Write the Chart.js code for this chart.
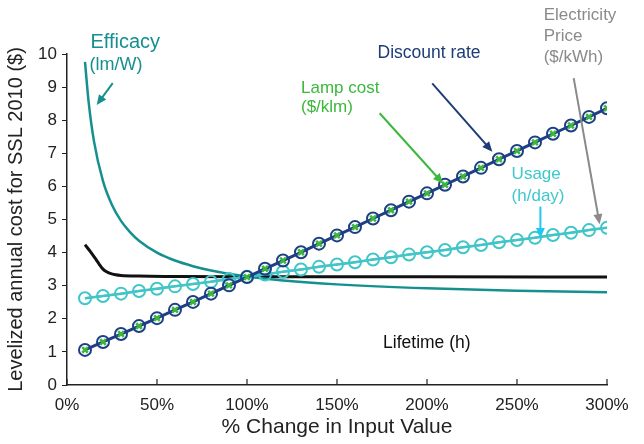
<!DOCTYPE html>
<html>
<head>
<meta charset="utf-8">
<script src="https://cdn.jsdelivr.net/npm/chart.js@4"></script>
<style>
  body { margin: 0; background: #fff; }
  #wrap { width: 644px; height: 444px; }
</style>
</head>
<body>
<div id="wrap"><canvas id="myChart"></canvas></div>
<script>
  // x = % change in input value
  const steps = [10, 20, 30, 40, 50, 60, 70, 80, 90, 100, 110, 120, 130, 140, 150,
                 160, 170, 180, 190, 200, 210, 220, 230, 240, 250, 260, 270, 280, 290, 300];

  const discountRate = [1.06, 1.30, 1.54, 1.78, 2.02, 2.27, 2.51, 2.76, 3.01, 3.26,
                        3.51, 3.76, 4.01, 4.27, 4.52, 4.77, 5.03, 5.28, 5.54, 5.79,
                        6.05, 6.30, 6.56, 6.82, 7.07, 7.33, 7.59, 7.84, 8.10, 8.36];
  const lampCost = [1.06, 1.30, 1.54, 1.78, 2.02, 2.27, 2.51, 2.76, 3.01, 3.26,
                    3.51, 3.76, 4.01, 4.27, 4.52, 4.77, 5.03, 5.28, 5.54, 5.79,
                    6.05, 6.30, 6.56, 6.82, 7.07, 7.33, 7.59, 7.84, 8.10, 8.36];
  const usage = [2.62, 2.69, 2.76, 2.84, 2.91, 2.98, 3.05, 3.12, 3.20, 3.27,
                 3.34, 3.42, 3.49, 3.57, 3.64, 3.71, 3.79, 3.86, 3.94, 4.01,
                 4.08, 4.16, 4.23, 4.31, 4.38, 4.45, 4.53, 4.60, 4.68, 4.75];
  const elecPrice = [2.62, 2.69, 2.76, 2.84, 2.91, 2.98, 3.05, 3.12, 3.20, 3.27,
                     3.34, 3.42, 3.49, 3.57, 3.64, 3.71, 3.79, 3.86, 3.94, 4.01,
                     4.08, 4.16, 4.23, 4.31, 4.38, 4.45, 4.53, 4.60, 4.68, 4.75];

  const efficacyX = [10, 12, 15, 20, 25, 30, 35, 40, 50, 60, 70, 80, 90, 100, 120, 150, 200, 250, 300];
  const efficacy  = [9.76, 8.56, 7.36, 6.16, 5.44, 4.96, 4.62, 4.36, 4.00, 3.76, 3.59, 3.46, 3.36, 3.28, 3.16, 3.04, 2.92, 2.85, 2.80];

  const lifetimeX = [10, 13, 16, 18, 20, 22, 24, 27, 30, 40, 60, 100, 150, 200, 300];
  const lifetime  = [4.24, 4.03, 3.80, 3.64, 3.50, 3.42, 3.37, 3.33, 3.31, 3.29, 3.28, 3.27, 3.27, 3.27, 3.26];

  const yTicks = [0, 1, 2, 3, 4, 5, 6, 7, 8, 9, 10];
  const xTicks = [0, 50, 100, 150, 200, 250, 300];

  // labels and arrows, placed in data units
  const notes = [
    { text: 'Efficacy', x: 13, y: 10.36, color: '#16908f', size: 20 },
    { text: '(lm/W)', x: 12.5, y: 9.67, color: '#16908f', size: 18 },
    { text: 'Discount rate', x: 172.5, y: 10.02, color: '#1d3c78', size: 17.5 },
    { text: 'Lamp cost', x: 130, y: 8.97, color: '#3cb83c', size: 17 },
    { text: '($/klm)', x: 130, y: 8.38, color: '#3cb83c', size: 17 },
    { text: 'Usage', x: 247, y: 6.37, color: '#3fc8cc', size: 17 },
    { text: '(h/day)', x: 247, y: 5.71, color: '#3fc8cc', size: 17 },
    { text: 'Electricity', x: 264.8, y: 11.18, color: '#8a8a8a', size: 17 },
    { text: 'Price', x: 264.8, y: 10.54, color: '#8a8a8a', size: 17 },
    { text: '($/kWh)', x: 264.8, y: 9.91, color: '#8a8a8a', size: 17 },
    { text: 'Lifetime (h)', x: 175.6, y: 1.26, color: '#111', size: 17.5 }
  ];
  const arrows = [
    { from: [25.4, 9.12], to: [16.5, 8.46], color: '#16908f' },
    { from: [202.9, 9.11], to: [236.3, 7.05], color: '#1d3c78' },
    { from: [173.7, 8.21], to: [208.9, 6.09], color: '#3cb83c' },
    { from: [263.0, 5.39], to: [263.0, 4.44], color: '#1ec8f0' },
    { from: [281.5, 9.27], to: [295.9, 4.86], color: '#8a8a8a' }
  ];

  const pts = (xs, ys) => xs.map((x, i) => ({ x: x, y: ys[i] }));

  const notePlugin = {
    id: 'notes',
    afterDraw(chart) {
      const c = chart.ctx, xs = chart.scales.x, ys = chart.scales.y;
      c.save();
      // inward ticks on x axis
      c.strokeStyle = '#222';
      c.lineWidth = 1.2;
      xTicks.forEach(v => {
        const px = xs.getPixelForValue(v);
        c.beginPath();
        c.moveTo(px, chart.chartArea.bottom);
        c.lineTo(px, chart.chartArea.bottom - 6);
        c.stroke();
      });
      notes.forEach(n => {
        c.font = n.size + 'px "Liberation Sans", Arial, sans-serif';
        c.fillStyle = n.color;
        c.textAlign = 'left';
        c.textBaseline = 'middle';
        c.fillText(n.text, xs.getPixelForValue(n.x), ys.getPixelForValue(n.y));
      });
      arrows.forEach(a => {
        const x1 = xs.getPixelForValue(a.from[0]), y1 = ys.getPixelForValue(a.from[1]);
        const x2 = xs.getPixelForValue(a.to[0]), y2 = ys.getPixelForValue(a.to[1]);
        const ang = Math.atan2(y2 - y1, x2 - x1);
        c.strokeStyle = a.color;
        c.fillStyle = a.color;
        c.lineWidth = 2;
        c.beginPath();
        c.moveTo(x1, y1);
        c.lineTo(x2 - 6 * Math.cos(ang), y2 - 6 * Math.sin(ang));
        c.stroke();
        c.beginPath();
        c.moveTo(x2, y2);
        c.lineTo(x2 - 10 * Math.cos(ang) + 4.5 * Math.sin(ang), y2 - 10 * Math.sin(ang) - 4.5 * Math.cos(ang));
        c.lineTo(x2 - 10 * Math.cos(ang) - 4.5 * Math.sin(ang), y2 - 10 * Math.sin(ang) + 4.5 * Math.cos(ang));
        c.closePath();
        c.fill();
      });
      c.restore();
    }
  };

  const ctx = document.getElementById('myChart');
  Chart.defaults.font.family = '"Liberation Sans", Arial, sans-serif';

  new Chart(ctx, {
    type: 'line',
    data: {
      datasets: [
        {
          label: 'Lamp cost ($/klm)',   // markers sit on top of the discount rate circles
          data: pts(steps, lampCost),
          showLine: false,
          pointStyle: 'crossRot',
          pointRadius: 4,
          pointBorderWidth: 2.5,
          pointBorderColor: '#3cb83c',
          borderColor: '#3cb83c',
          order: 0
        },
        {
          label: 'Discount rate',
          data: pts(steps, discountRate),
          borderColor: '#1d3f85',
          borderWidth: 3,
          pointRadius: 6,
          pointBorderWidth: 2,
          pointBorderColor: '#1d3f85',
          pointBackgroundColor: 'rgba(0,0,0,0)',
          order: 1
        },
        {
          label: 'Usage (h/day)',
          data: pts(steps, usage),
          borderColor: '#40c6c9',
          borderWidth: 2.5,
          pointRadius: 6,
          pointBorderWidth: 2,
          pointBorderColor: '#40c6c9',
          pointBackgroundColor: 'rgba(0,0,0,0)',
          order: 2
        },
        {
          label: 'Electricity Price ($/kWh)',
          data: pts(steps, elecPrice),
          borderColor: '#8a8a8a',
          borderWidth: 2,
          pointRadius: 0,
          order: 3
        },
        {
          label: 'Efficacy (lm/W)',
          data: pts(efficacyX, efficacy),
          borderColor: '#16908f',
          borderWidth: 2.5,
          pointRadius: 0,
          cubicInterpolationMode: 'monotone',
          order: 4
        },
        {
          label: 'Lifetime (h)',
          data: pts(lifetimeX, lifetime),
          borderColor: '#111',
          borderWidth: 3,
          pointRadius: 0,
          cubicInterpolationMode: 'monotone',
          order: 5
        }
      ]
    },
    options: {
      responsive: true,
      maintainAspectRatio: false,
      animation: false,
      layout: { padding: { top: 54, right: 37, left: 0, bottom: 0 } },
      plugins: {
        legend: { display: false },
        tooltip: { enabled: false }
      },
      scales: {
        x: {
          type: 'linear',
          min: 0,
          max: 300,
          afterBuildTicks: s => { s.ticks = xTicks.map(v => ({ value: v })); },
          afterFit: s => { s.height = 59; },
          grid: { display: true, drawOnChartArea: false, drawTicks: false },
          border: { color: '#222', width: 1.5 },
          ticks: {
            padding: 10,
            color: '#222',
            font: { size: 17 },
            callback: v => v + '%'
          },
          title: {
            display: true,
            text: '% Change in Input Value',
            color: '#222',
            font: { size: 21 },
            padding: { top: 0 }
          }
        },
        y: {
          min: 0,
          max: 10,
          afterBuildTicks: s => { s.ticks = yTicks.map(v => ({ value: v })); },
          afterFit: s => { s.width = 67; },
          grid: { display: true, drawOnChartArea: false, tickLength: 5, color: '#222' },
          border: { color: '#222', width: 1.5 },
          ticks: {
            padding: 5,
            color: '#222',
            font: { size: 17 }
          },
          title: {
            display: true,
            text: 'Levelized annual cost for SSL 2010 ($)',
            color: '#222',
            font: { size: 20 },
            padding: { bottom: 0 }
          }
        }
      }
    },
    plugins: [notePlugin]
  });
</script>
</body>
</html>
